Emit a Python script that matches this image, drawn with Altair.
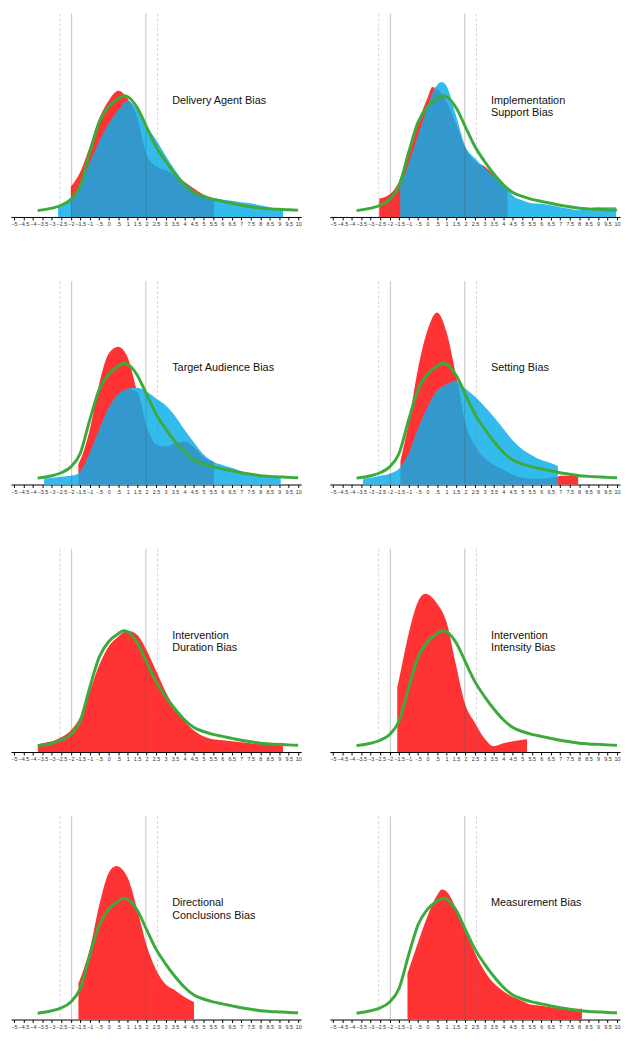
import altair as alt
import pandas as pd

TICKS = [-5, -4.5, -4, -3.5, -3, -2.5, -2, -1.5, -1, -0.5, 0, 0.5, 1, 1.5, 2, 2.5,
         3, 3.5, 4, 4.5, 5, 5.5, 6, 6.5, 7, 7.5, 8, 8.5, 9, 9.5, 10]

SOLID_REF = [-1.96, 1.96]
DASHED_REF = [-2.58, 2.58]

# reference (green) density, shared by all panels
GREEN_X = [-3.75, -3.0, -2.5, -2.0, -1.5, -1.0, -0.5, 0.0, 0.5, 0.8, 1.0, 1.5, 2.0, 2.5,
           3.0, 3.5, 4.0, 4.5, 5.0, 5.5, 6.0, 6.5, 7.0, 7.5, 8.0, 8.5, 9.0, 9.5, 10.0]
GREEN_Y = [6.5, 9, 12, 18, 32, 66, 97, 113, 121, 124, 123, 112, 92, 72,
           57, 44, 33, 25, 21, 18, 16, 14, 12, 10.5, 9, 8.3, 7.8, 7.3, 7]

TITLES = ["Delivery Agent Bias", "Implementation\nSupport Bias", "Target Audience Bias",
          "Setting Bias", "Intervention\nDuration Bias", "Intervention\nIntensity Bias",
          "Directional\nConclusions Bias", "Measurement Bias"]

P1_X = [-2.67, -2.5, -2.0, -1.5, -1.0, -0.5, 0.0, 0.5, 1.0, 1.5, 2.0, 2.5, 3.0, 3.5, 4.0,
        4.5, 5.0, 5.55, 6.0, 6.5, 7.0, 7.5, 8.0, 8.5, 9.0, 9.2]
P1_RED = [None, None, 31, 46, 72, 101, 119, 129, 121, 102, 64, 52, 48, 43, 36,
          29, 23, 19, None, None, None, None, None, None, None, None]
P1_BLUE = [12, 13, 18, 31, 55, 77, 95, 109, 119, 110, 93, 79, 63, 48, 35,
           27, 22, 19.3, 18, 16.5, 15, 14, 12, 10, 9, 9]

P2_X = [-2.55, -2.0, -1.43, -1.0, -0.5, 0.0, 0.25, 0.5, 0.75, 1.0, 1.5, 2.0, 2.5, 3.0, 3.5,
        4.0, 4.22, 4.5, 5.0, 5.5, 6.0, 6.5, 7.0, 7.5, 8.0, 8.5, 9.0, 9.5, 9.95]
P2_RED = [19, 23, 40, 68, 97, 122, 133, 131, 126, 118, 95, 70, 57, 52, 43,
          33, 29, None, None, None, None, None, None, None, None, None, None, None, None]
P2_BLUE = [None, None, 31, 54, 83, 112, 126, 135, 138, 134, 104, 72, 60, 50, 41,
           32, 29, 22, 17, 14, 13.5, 12, 10, 8.5, 7, 9, 10, 10, 10]

P3_X = [-3.41, -3.0, -2.5, -2.0, -1.6, -1.5, -1.0, -0.5, 0.0, 0.5, 1.0, 1.5, 2.0, 2.5, 3.0,
        3.5, 4.0, 4.5, 5.0, 5.55, 6.0, 6.5, 7.0, 7.5, 8.0, 8.5, 9.08]
P3_RED = [None, None, None, None, 21, 25, 56, 103, 134, 141, 130, 95, 60, 41, 39,
          42, 44, 38, 28, 23, None, None, None, None, None, None, None]
P3_BLUE = [6, 7, 8, 9, 11, 13, 32, 56, 78, 92, 98, 99, 95, 88, 81,
           70, 56, 43, 31, 23, 20, 17, 13.5, 11, 9, 8, 8]

P4_X = [-3.41, -3.0, -2.5, -2.0, -1.43, -1.0, -0.5, 0.0, 0.5, 1.0, 1.5, 2.0, 2.5, 3.0, 3.5,
        4.0, 4.5, 5.0, 5.5, 6.0, 6.5, 6.88, 7.0, 7.5, 7.95]
P4_RED = [None, None, None, None, 24, 63, 119, 158, 176, 156, 112, 62, 40, 27, 20,
          15, 10, 7, 6, 6, 7, 8, 9, 9, 9]
P4_BLUE = [6, 7, 9, 11, 18, 31, 57, 79, 96, 102, 106, 98, 90, 80, 69,
           57, 45, 36, 30, 25, 22, 19, None, None, None]

P5_X = [-3.74, -3.5, -3.0, -2.5, -2.0, -1.5, -1.0, -0.5, 0.0, 0.5, 1.0, 1.5, 2.0, 2.5,
        3.0, 3.5, 4.0, 4.5, 5.0, 5.5, 6.0, 6.5, 7.0, 7.5, 8.0, 8.5, 9.0, 9.2]
P5_RED = [8, 9, 11, 15, 22, 36, 62, 89, 108, 118, 124, 120, 104, 83,
          62, 45, 32, 22, 16, 13, 12, 11, 10, 9, 8.5, 8, 7, 6]

P6_X = [-1.6, -1.5, -1.0, -0.5, -0.13, 0.5, 1.0, 1.5, 2.0, 2.5, 3.0, 3.5, 4.0, 4.5, 5.0, 5.25]
P6_RED = [66, 75, 121, 154, 162, 152, 133, 89, 48, 30, 14, 6, 9, 11, 12.5, 13]

P7_X = [-1.6, -1.5, -1.0, -0.5, 0.0, 0.4, 1.0, 1.5, 2.0, 2.5, 3.0, 3.5, 4.0, 4.5]
P7_RED = [37, 42, 72, 117, 150, 157, 145, 113, 76, 51, 36, 30, 23, 18]

P8_X = [-1.06, -0.5, 0.0, 0.5, 0.75, 1.0, 1.5, 2.0, 2.5, 3.0, 3.5, 4.0, 4.5, 5.0, 5.5,
        6.0, 6.5, 7.0, 7.5, 8.15]
P8_RED = [47, 79, 106, 127, 133, 131, 114, 91, 68, 50, 37, 29, 23, 19, 15,
          14, 12.5, 12, 11, 11]

PANELS = [
    (P1_X, P1_RED, P1_BLUE), (P2_X, P2_RED, P2_BLUE),
    (P3_X, P3_RED, P3_BLUE), (P4_X, P4_RED, P4_BLUE),
    (P5_X, P5_RED, None), (P6_X, P6_RED, None),
    (P7_X, P7_RED, None), (P8_X, P8_RED, None),
]

RED = "#FF3333"
LIGHT_BLUE = "#33BBEE"
DARK_BLUE = "#3399CC"
GREEN = "#3CAB3C"

LABEL_X = 3.35
LABEL_Y = 116


def series_df(xs, ys):
    return pd.DataFrame([{"x": x, "y": y} for x, y in zip(xs, ys) if y is not None])


def overlap_df(xs, a, b):
    return pd.DataFrame([{"x": x, "y": min(p, q)} for x, p, q in zip(xs, a, b)
                         if p is not None and q is not None])


x_enc = alt.X(
    "x:Q",
    scale=alt.Scale(domain=[-5.16, 10.16], nice=False, zero=False),
    axis=alt.Axis(
        values=TICKS, format="~g", labelOverlap=False, labelFlush=False,
        labelExpr="datum.value == 0.5 ? '.5' : (datum.value == -0.5 ? '-.5' : datum.label)",
        labelFontSize=5.5, labelColor="#333", labelPadding=2, labelAngle=0,
        tickSize=3, tickColor="#000", domainColor="#000", grid=False, title=None,
    ),
)
y_enc = alt.Y("y:Q", scale=alt.Scale(domain=[0, 208], nice=False), axis=None)


def panel(i):
    xs, red, blue = PANELS[i]
    layers = [alt.Chart(series_df(xs, red)).mark_area(color=RED, interpolate="monotone")
              .encode(x=x_enc, y=y_enc)]
    if blue is not None:
        layers.append(alt.Chart(series_df(xs, blue)).mark_area(color=LIGHT_BLUE, interpolate="monotone")
                      .encode(x=x_enc, y=y_enc))
        layers.append(alt.Chart(overlap_df(xs, red, blue)).mark_area(color=DARK_BLUE, interpolate="monotone")
                      .encode(x=x_enc, y=y_enc))
    layers.append(alt.Chart(pd.DataFrame({"x": SOLID_REF})).mark_rule(
        color="#555", opacity=0.3, strokeWidth=1.2).encode(x=x_enc))
    layers.append(alt.Chart(pd.DataFrame({"x": DASHED_REF})).mark_rule(
        color="#777", opacity=0.3, strokeWidth=1, strokeDash=[3, 2]).encode(x=x_enc))
    layers.append(alt.Chart(pd.DataFrame({"x": GREEN_X, "y": GREEN_Y})).mark_line(
        color=GREEN, strokeWidth=3, interpolate="monotone").encode(x=x_enc, y=y_enc))
    layers.append(alt.Chart(pd.DataFrame({"x": [LABEL_X], "y": [LABEL_Y], "t": [TITLES[i]]})).mark_text(
        align="left", baseline="alphabetic", fontSize=11, lineHeight=13, lineBreak="\n",
        font="Liberation Sans", color="#111").encode(x=x_enc, y=y_enc, text="t:N"))
    return alt.layer(*layers).properties(width=294, height=206)


chart = alt.concat(*[panel(i) for i in range(8)], columns=2,
                   spacing={"row": 53, "column": 25}).properties(
    padding={"left": 2, "top": -2, "right": 0, "bottom": 0},
).configure_view(stroke=None).configure_axis(labelFont="Liberation Sans")

chart.save("out.html", embed_options={"renderer": "svg", "actions": False})
